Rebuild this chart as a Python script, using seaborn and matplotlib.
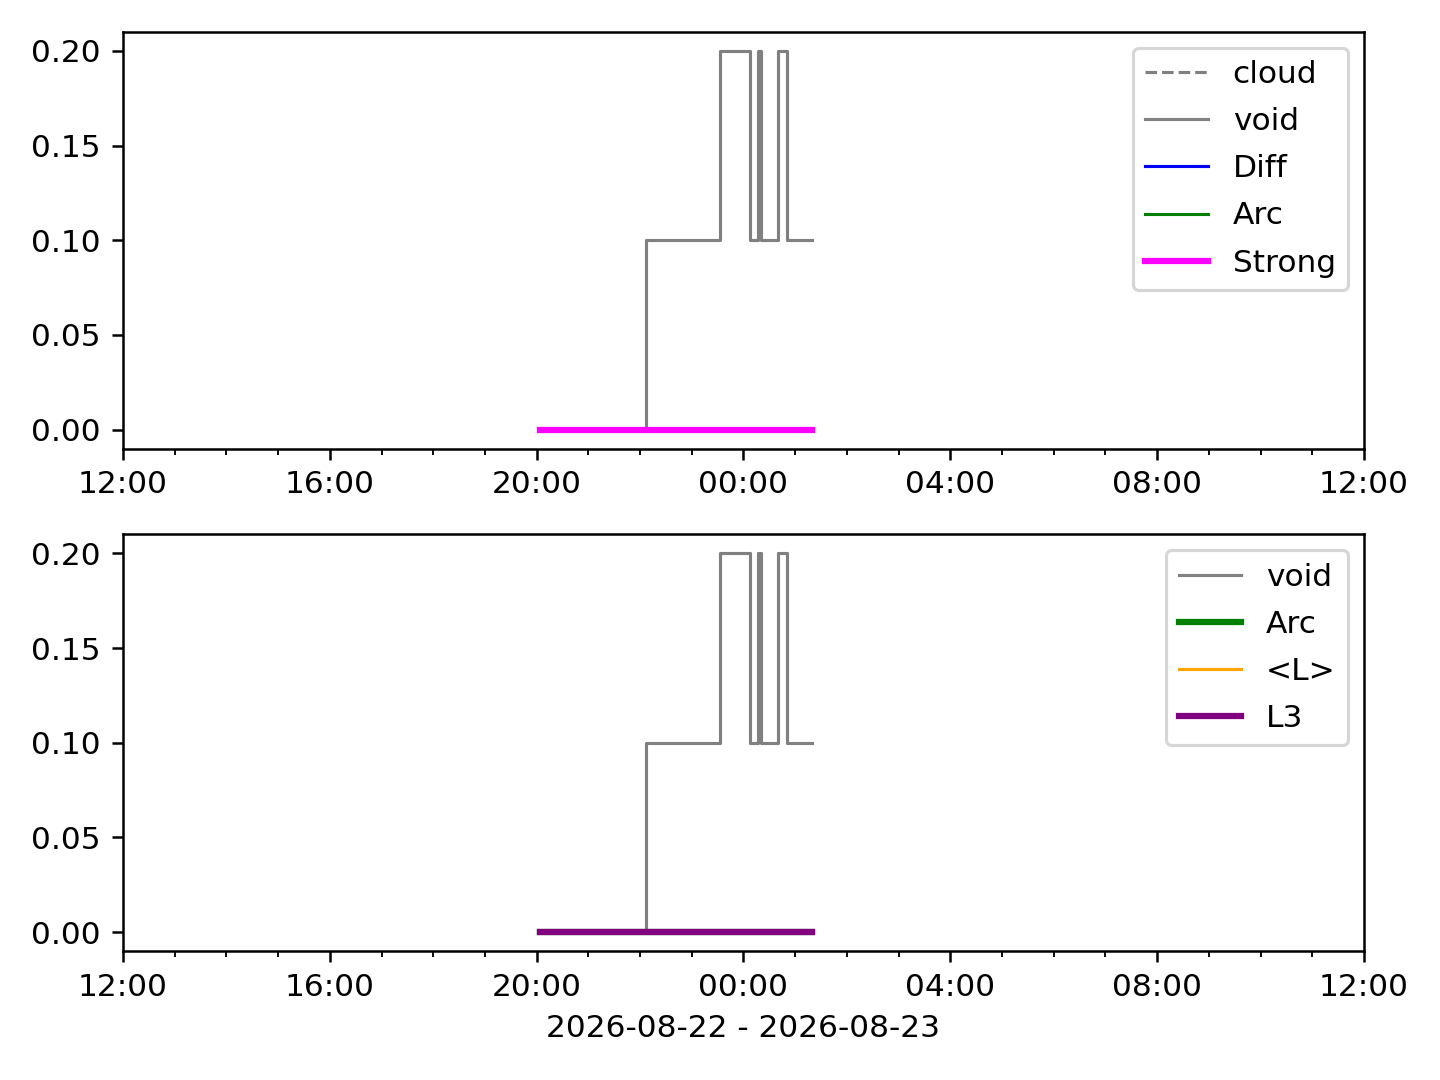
import pandas as pd
import matplotlib
matplotlib.use("Agg")
import matplotlib.pyplot as plt
import matplotlib.dates as mdates
import seaborn as sns

# tiempos de los cambios de escalón (void)
void_times = pd.to_datetime([
    "2026-08-22 20:03", "2026-08-22 22:07", "2026-08-22 23:33",
    "2026-08-23 00:07", "2026-08-23 00:17", "2026-08-23 00:20",
    "2026-08-23 00:40", "2026-08-23 00:50", "2026-08-23 01:20",
])
void_vals = [0.0, 0.1, 0.2, 0.1, 0.2, 0.1, 0.2, 0.1, 0.1]

# series planas en cero
flat_times = pd.to_datetime(["2026-08-22 20:04", "2026-08-23 01:20"])
diff_vals = [0.0, 0.0]
arc_vals = [0.0, 0.0]
strong_vals = [0.0, 0.0]
meanL_vals = [0.0, 0.0]
l3_vals = [0.0, 0.0]

x_start = pd.Timestamp("2026-08-22 12:00")
x_end = pd.Timestamp("2026-08-23 12:00")

fig, (ax1, ax2) = plt.subplots(2, 1, figsize=(6.4, 4.8), dpi=225)

# panel de arriba
ax1.plot([], [], color="gray", ls="--", lw=1, label="cloud")
sns.lineplot(x=void_times, y=void_vals, ax=ax1, color="gray", lw=1,
             drawstyle="steps-post", label="void")
sns.lineplot(x=flat_times, y=diff_vals, ax=ax1, color="blue", lw=1, label="Diff")
sns.lineplot(x=flat_times, y=arc_vals, ax=ax1, color="green", lw=1, label="Arc")
sns.lineplot(x=flat_times, y=strong_vals, ax=ax1, color="magenta", lw=2, label="Strong")

# panel de abajo
sns.lineplot(x=void_times, y=void_vals, ax=ax2, color="gray", lw=1,
             drawstyle="steps-post", label="void")
sns.lineplot(x=flat_times, y=arc_vals, ax=ax2, color="green", lw=2, label="Arc")
sns.lineplot(x=flat_times, y=meanL_vals, ax=ax2, color="orange", lw=1, label="<L>")
sns.lineplot(x=flat_times, y=l3_vals, ax=ax2, color="purple", lw=2, label="L3")

for ax in (ax1, ax2):
    ax.set_xlim(x_start, x_end)
    ax.set_ylim(-0.01, 0.21)
    ax.set_yticks([0.0, 0.05, 0.10, 0.15, 0.20])
    ax.xaxis.set_major_locator(mdates.HourLocator(byhour=range(0, 24, 4)))
    ax.xaxis.set_minor_locator(mdates.HourLocator())
    ax.xaxis.set_major_formatter(mdates.DateFormatter("%H:%M"))
    ax.set_ylabel("")
    ax.set_xlabel("")
    ax.legend(loc="upper right", labelspacing=0.58)

ax2.set_xlabel("2026-08-22 - 2026-08-23")

plt.subplots_adjust(left=0.0854, right=0.9472, top=0.9704, bottom=0.1194, hspace=0.206)
plt.savefig("out.png")
